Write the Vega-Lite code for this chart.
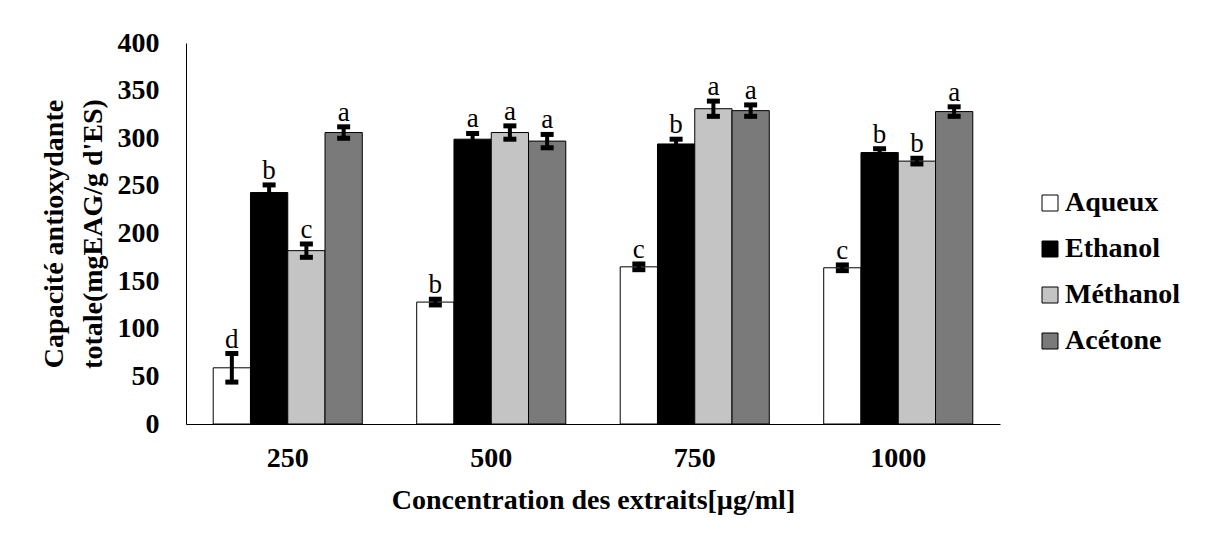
{
  "$schema": "https://vega.github.io/schema/vega-lite/v6.json",
  "width": 814,
  "height": 381,
  "autosize": {"type": "none"},
  "padding": {"left": 186, "top": 43, "right": 206, "bottom": 118},
  "background": "white",
  "config": {
    "font": "Liberation Serif",
    "view": {"stroke": null},
    "axis": {"domainColor": "black", "domainWidth": 1, "grid": false, "ticks": false, "labelColor": "black", "titleColor": "black", "labelFont": "Liberation Serif", "titleFont": "Liberation Serif"},
    "legend": {"labelFont": "Liberation Serif", "titleFont": "Liberation Serif"},
    "text": {"font": "Liberation Serif"}
  },
  "data": {
    "values": [
      {"conc": "250", "solvent": "Aqueux", "value": 59, "lo": 44, "hi": 74, "letter": "d"},
      {"conc": "250", "solvent": "Ethanol", "value": 243, "lo": 235, "hi": 251, "letter": "b"},
      {"conc": "250", "solvent": "Méthanol", "value": 182, "lo": 175, "hi": 189, "letter": "c"},
      {"conc": "250", "solvent": "Acétone", "value": 306, "lo": 300, "hi": 312, "letter": "a"},
      {"conc": "500", "solvent": "Aqueux", "value": 128, "lo": 125, "hi": 131, "letter": "b"},
      {"conc": "500", "solvent": "Ethanol", "value": 299, "lo": 293, "hi": 305, "letter": "a"},
      {"conc": "500", "solvent": "Méthanol", "value": 306, "lo": 299, "hi": 313, "letter": "a"},
      {"conc": "500", "solvent": "Acétone", "value": 297, "lo": 290, "hi": 304, "letter": "a"},
      {"conc": "750", "solvent": "Aqueux", "value": 165, "lo": 162, "hi": 168, "letter": "c"},
      {"conc": "750", "solvent": "Ethanol", "value": 294, "lo": 289, "hi": 299, "letter": "b"},
      {"conc": "750", "solvent": "Méthanol", "value": 331, "lo": 323, "hi": 339, "letter": "a"},
      {"conc": "750", "solvent": "Acétone", "value": 329, "lo": 323, "hi": 335, "letter": "a"},
      {"conc": "1000", "solvent": "Aqueux", "value": 164, "lo": 161, "hi": 167, "letter": "c"},
      {"conc": "1000", "solvent": "Ethanol", "value": 285, "lo": 281, "hi": 289, "letter": "b"},
      {"conc": "1000", "solvent": "Méthanol", "value": 276, "lo": 273, "hi": 279, "letter": "b"},
      {"conc": "1000", "solvent": "Acétone", "value": 328, "lo": 323, "hi": 333, "letter": "a"}
    ]
  },
  "encoding": {
    "x": {
      "field": "conc", "type": "ordinal", "sort": ["250", "500", "750", "1000"],
      "scale": {"paddingInner": 0, "paddingOuter": 0},
      "axis": {
        "labelAngle": 0, "labelFontSize": 28, "labelFontWeight": "bold", "labelPadding": 20,
        "labelFont": "Liberation Serif", "titleFont": "Liberation Serif",
        "title": "Concentration des extraits[µg/ml]", "titleFontSize": 28, "titleFontWeight": "bold", "titlePadding": 14
      }
    },
    "xOffset": {
      "field": "solvent", "type": "nominal", "sort": ["Aqueux", "Ethanol", "Méthanol", "Acétone"],
      "scale": {"paddingInner": 0, "paddingOuter": 0.73}
    }
  },
  "layer": [
    {
      "mark": {"type": "bar", "stroke": "black", "strokeWidth": 1},
      "encoding": {
        "y": {
          "field": "value", "type": "quantitative",
          "title": ["Capacité  antioxydante", "totale(mgEAG/g d'ES)"],
          "scale": {"domain": [0, 400], "nice": false},
          "axis": {
            "values": [0, 50, 100, 150, 200, 250, 300, 350, 400],
            "labelFont": "Liberation Serif", "titleFont": "Liberation Serif",
            "labelFontSize": 28, "labelFontWeight": "bold", "labelPadding": 27,
            "title": ["Capacité  antioxydante", "totale(mgEAG/g d'ES)"],
            "titleFontSize": 28, "titleFontWeight": "bold", "titleLineHeight": 39, "titlePadding": 10
          }
        },
        "color": {
          "field": "solvent", "type": "nominal",
          "sort": ["Aqueux", "Ethanol", "Méthanol", "Acétone"],
          "scale": {"domain": ["Aqueux", "Ethanol", "Méthanol", "Acétone"], "range": ["#ffffff", "#000000", "#c4c4c4", "#7a7a7a"]},
          "legend": {
            "orient": "none", "legendX": 850, "legendY": 146, "title": null,
            "labelFont": "Liberation Serif",
            "labelFontSize": 28, "labelFontWeight": "bold", "labelColor": "black",
            "symbolType": "square", "symbolSize": 256, "symbolStrokeColor": "black", "symbolStrokeWidth": 1,
            "symbolOpacity": 1, "rowPadding": 18, "labelOffset": 1, "padding": 0
          }
        }
      }
    },
    {
      "mark": {"type": "rule", "strokeWidth": 4, "color": "black"},
      "encoding": {
        "y": {"field": "lo", "type": "quantitative", "title": ["Capacité  antioxydante", "totale(mgEAG/g d'ES)"]},
        "y2": {"field": "hi"}
      }
    },
    {
      "mark": {"type": "tick", "thickness": 5, "size": 13, "color": "black", "opacity": 1},
      "encoding": {"y": {"field": "lo", "type": "quantitative", "title": ["Capacité  antioxydante", "totale(mgEAG/g d'ES)"]}}
    },
    {
      "mark": {"type": "tick", "thickness": 5, "size": 13, "color": "black", "opacity": 1},
      "encoding": {"y": {"field": "hi", "type": "quantitative", "title": ["Capacité  antioxydante", "totale(mgEAG/g d'ES)"]}}
    },
    {
      "mark": {"type": "text", "baseline": "alphabetic", "dy": -6, "fontSize": 27, "color": "black", "font": "Liberation Serif"},
      "encoding": {
        "y": {"field": "hi", "type": "quantitative", "title": ["Capacité  antioxydante", "totale(mgEAG/g d'ES)"]},
        "text": {"field": "letter"}
      }
    }
  ]
}
